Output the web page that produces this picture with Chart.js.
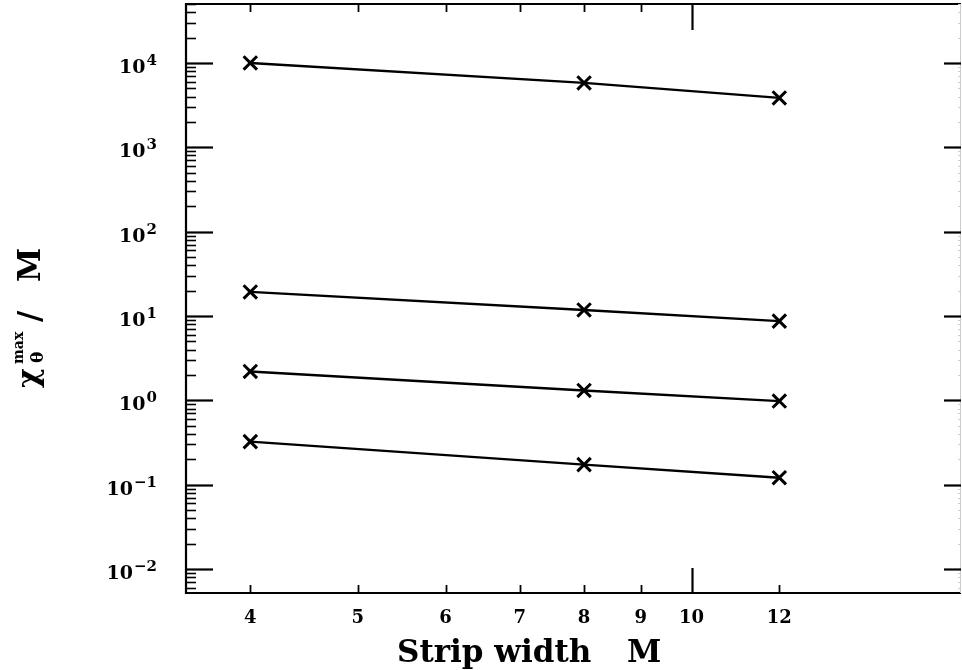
<!DOCTYPE html>
<html>
<head>
<meta charset="utf-8">
<script src="https://cdn.jsdelivr.net/npm/chart.js@4/dist/chart.umd.min.js"></script>
<style>
  html, body { margin: 0; padding: 0; background: #fff; }
  #wrap { width: 962px; height: 670px; position: relative; }
</style>
</head>
<body>
<div id="wrap"><canvas id="c"></canvas></div>
<script>
// ---- data ----
const stripWidths = [4, 8, 12];
const seriesTop   = [10000, 5800, 3850];
const seriesSecond = [19.3, 11.8, 8.7];
const seriesThird  = [2.2, 1.31, 0.98];
const seriesBottom = [0.324, 0.173, 0.121];

const yDecadeExponents = [-2, -1, 0, 1, 2, 3, 4];
const xTickLabels = [4, 5, 6, 7, 8, 9, 10, 12];
const xMinorTicksBottom = [4, 5, 6, 7, 8, 9, 12];
const xMinorTicksTop = [4, 5, 6, 7, 8, 9];
const xMajorTicks = [10];

const xTitle = 'Strip width';
const xTitleVar = 'M';

function toPoints(vals) { return stripWidths.map((x, i) => ({ x: x, y: vals[i] })); }

const SERIF = "'DejaVu Serif', 'Liberation Serif', serif";

const frameAndLabels = {
  id: 'frameAndLabels',
  afterDraw(chart) {
    const ctx = chart.ctx;
    const a = chart.chartArea;
    const xs = chart.scales.x, ys = chart.scales.y;
    ctx.save();
    ctx.strokeStyle = '#000';
    ctx.fillStyle = '#000';
    ctx.lineCap = 'butt';
    // frame: left, bottom, top heavy; right light
    ctx.lineWidth = 2.2;
    ctx.beginPath();
    ctx.moveTo(a.right, a.top); ctx.lineTo(a.left, a.top);
    ctx.lineTo(a.left, a.bottom); ctx.lineTo(a.right, a.bottom);
    ctx.stroke();
    ctx.strokeStyle = '#ccc';
    ctx.lineWidth = 1;
    ctx.beginPath(); ctx.moveTo(a.right - 0.5, a.top); ctx.lineTo(a.right - 0.5, a.bottom); ctx.stroke();
    ctx.strokeStyle = '#000';

    // y ticks
    yDecadeExponents.concat([-3]).forEach(e => {
      for (let k = 1; k <= 9; k++) {
        const v = k * Math.pow(10, e);
        if (v < ys.min || v > ys.max) continue;
        const py = Math.round(ys.getPixelForValue(v)) + 0.5;
        if (k === 1) {
          ctx.lineWidth = 2.2;
          ctx.beginPath(); ctx.moveTo(a.left, py); ctx.lineTo(a.left + 27, py); ctx.stroke();
          ctx.beginPath(); ctx.moveTo(a.right, py); ctx.lineTo(a.right - 17, py); ctx.stroke();
        } else {
          ctx.lineWidth = 1.6;
          ctx.beginPath(); ctx.moveTo(a.left, py); ctx.lineTo(a.left + 10, py); ctx.stroke();
          ctx.strokeStyle = '#ccc'; ctx.lineWidth = 1;
          ctx.beginPath(); ctx.moveTo(a.right, py); ctx.lineTo(a.right - 3, py); ctx.stroke();
          ctx.strokeStyle = '#000';
        }
      }
    });

    // x ticks
    ctx.lineWidth = 1.8;
    xMinorTicksBottom.forEach(v => {
      const px = Math.round(xs.getPixelForValue(v)) + 0.5;
      ctx.beginPath(); ctx.moveTo(px, a.bottom); ctx.lineTo(px, a.bottom - 8); ctx.stroke();
    });
    xMinorTicksTop.forEach(v => {
      const px = Math.round(xs.getPixelForValue(v)) + 0.5;
      ctx.beginPath(); ctx.moveTo(px, a.top); ctx.lineTo(px, a.top + 8); ctx.stroke();
    });
    ctx.lineWidth = 2.2;
    xMajorTicks.forEach(v => {
      const px = Math.round(xs.getPixelForValue(v)) + 0.5;
      ctx.beginPath(); ctx.moveTo(px, a.bottom); ctx.lineTo(px, a.bottom - 25); ctx.stroke();
      ctx.beginPath(); ctx.moveTo(px, a.top); ctx.lineTo(px, a.top + 26); ctx.stroke();
    });

    // y tick labels 10^n
    yDecadeExponents.forEach(e => {
      const py = ys.getPixelForValue(Math.pow(10, e));
      const expTxt = (e < 0 ? '\u2212' + (-e) : String(e));
      ctx.font = 'bold 15px ' + SERIF;
      const ew = ctx.measureText(expTxt).width;
      const rightEdge = 157;
      ctx.textAlign = 'left';
      ctx.textBaseline = 'alphabetic';
      ctx.fillText(expTxt, rightEdge - ew, py + 2);
      ctx.font = 'bold 19px ' + SERIF;
      const bw = ctx.measureText('10').width;
      ctx.fillText('10', rightEdge - ew - bw - 1, py + 10);
    });

    // x tick labels
    ctx.font = 'bold 18px ' + SERIF;
    ctx.textAlign = 'center';
    ctx.textBaseline = 'alphabetic';
    xTickLabels.forEach(v => {
      ctx.fillText(String(v), xs.getPixelForValue(v), 623);
    });

    // x title
    ctx.font = 'bold 31px ' + SERIF;
    ctx.textAlign = 'left';
    ctx.fillText(xTitle, 397, 662);
    ctx.fillText(xTitleVar, 627, 662);

    // y title: chi_theta^max / M
    ctx.save();
    ctx.translate(40, 388);
    ctx.rotate(-Math.PI / 2);
    ctx.textAlign = 'left';
    ctx.textBaseline = 'alphabetic';
    ctx.font = 'bold 30px ' + SERIF;
    ctx.fillText('\u03C7', 0, -2);
    ctx.font = 'bold 17px ' + SERIF;
    ctx.fillText('\u03B8', 25, 3);
    ctx.font = 'bold 14px ' + SERIF;
    ctx.fillText('max', 24, -17);
    ctx.font = 'bold 31px ' + SERIF;
    ctx.fillText('/', 66, 0);
    ctx.fillText('M', 106, 0);
    ctx.restore();

    ctx.restore();
  }
};

function ds(vals) {
  return {
    data: toPoints(vals),
    borderColor: '#000',
    backgroundColor: '#000',
    borderWidth: 2.4,
    pointStyle: 'crossRot',
    pointRadius: 9.5,
    pointBorderWidth: 3,
    pointBorderColor: '#000',
    tension: 0,
    fill: false
  };
}

new Chart(document.getElementById('c'), {
  type: 'line',
  data: { datasets: [ds(seriesTop), ds(seriesSecond), ds(seriesThird), ds(seriesBottom)] },
  options: {
    responsive: true,
    maintainAspectRatio: false,
    animation: false,
    layout: { autoPadding: false, padding: { left: 186, right: 1, top: 4, bottom: 77 } },
    plugins: { legend: { display: false }, tooltip: { enabled: false } },
    scales: {
      x: { type: 'logarithmic', min: 3.5, max: 17.5, display: false },
      y: { type: 'logarithmic', min: 0.0052, max: 50000, display: false }
    }
  },
  plugins: [frameAndLabels]
});
</script>
</body>
</html>
